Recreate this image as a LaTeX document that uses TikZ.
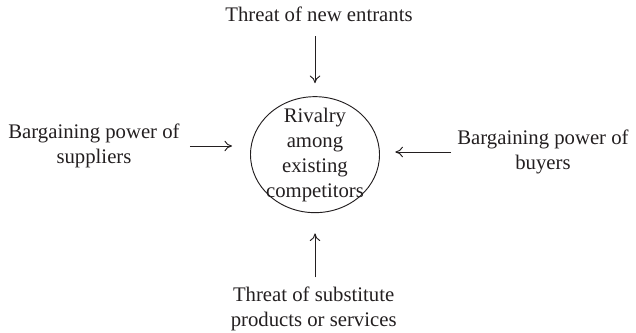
\documentclass[tikz,border=0pt]{standalone}
\usepackage{fontspec}
\setmainfont{Liberation Serif}
\usepackage{tikz}
\usetikzlibrary{positioning,shapes.geometric,arrows.meta}
\definecolor{InkGray}{HTML}{231F20}
\tikzset{
  forcenode/.style={
    inner sep=0pt,align=center,
    font=\fontsize{17.7}{21.3}\selectfont,text=InkGray
  },
  rivalnode/.style={
    draw=InkGray,ellipse,line width=0.8pt,inner sep=0pt,
    minimum width=3.87cm,minimum height=3.48cm
  },
  forcearrow/.style={
    draw=InkGray,line width=0.8pt,-{To[length=6.5pt,width=9pt]}
  },
}

\begin{document}
\begin{tikzpicture}
  \useasboundingbox (0,0) rectangle (19.08,-9.99);
  \node[rivalnode] (rivalry) at (9.45,-4.64) {};
  \node[forcenode] (rivaltext) at (rivalry.center) {Rivalry\\among\\existing\\competitors};
  \node[forcenode] (entrants) at (9.57,-0.44) {Threat of new entrants};
  \node[forcenode] (suppliers) at (2.82,-4.38) {Bargaining power of\\suppliers};
  \node[forcenode] (buyers) at (16.29,-4.56) {Bargaining power of\\buyers};
  \node[forcenode] (substitutes) at (9.41,-9.26) {Threat of substitute\\products or services};
  \draw[forcearrow, shorten <=0.42cm, shorten >=0.39cm] (rivalry.north |- entrants.south) -- (rivalry.north);
  \draw[forcearrow, shorten <=0.30cm, shorten >=0.54cm] (suppliers.east) -- (suppliers.east -| rivalry.west);
  \draw[forcearrow, shorten <=0.18cm, shorten >=0.46cm] (buyers.west) -- (buyers.west -| rivalry.east);
  \draw[forcearrow, shorten <=0.27cm, shorten >=0.61cm] (rivalry.south |- substitutes.north) -- (rivalry.south);
\end{tikzpicture}
\end{document}
